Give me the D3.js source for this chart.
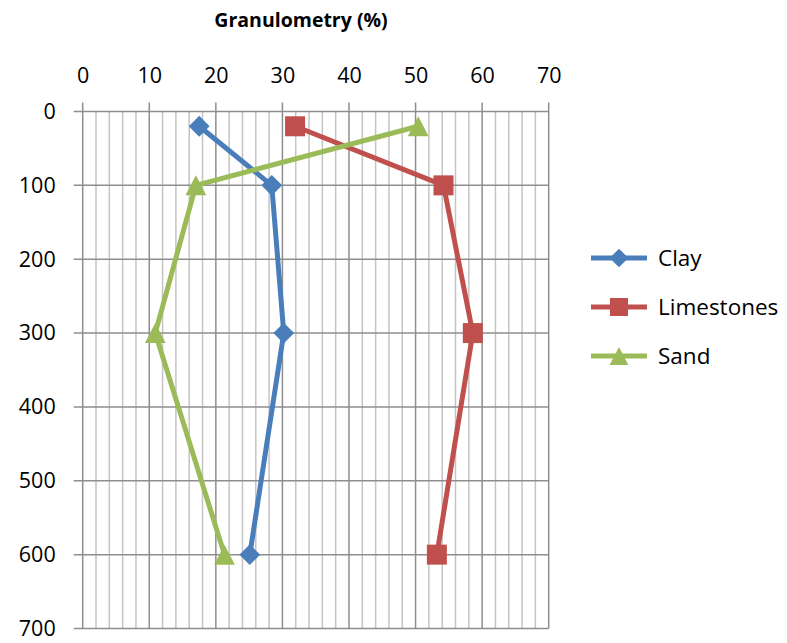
<!DOCTYPE html>
<html><head><meta charset="utf-8">
<script src="https://cdn.jsdelivr.net/npm/d3@7"></script>
<style>body{margin:0;background:#fff}svg{display:block}</style>
</head><body>
<svg id="c" width="787" height="643"></svg>
<script>
const xTicks = [0,10,20,30,40,50,60,70];
const yTicks = [0,100,200,300,400,500,600,700];
const depths = [20,100,300,600];
const clay = [17.5,28.4,30.2,25.1];
const limestones = [31.9,54.2,58.6,53.2];
const sand = [50.4,17.0,10.9,21.3];
const seriesNames = ["Clay","Limestones","Sand"];
const seriesColors = ["#4A7EBB","#C0504D","#9BBB59"];
const seriesData = [clay, limestones, sand];

const svg = d3.select("#c");
const font = "'Open Sans', sans-serif";
const x = d3.scaleLinear().domain([0,70]).range([82.7,548.7]);
const y = d3.scaleLinear().domain([0,700]).range([111.5,628.5]);

// marker path generators
function marker(i, s){
  if(i===0){ const h=s*0.52; return `M0,${-h}L${h},0L0,${h}L${-h},0Z`; }
  if(i===1){ const h=s*0.5; return `M${-h},${-h}H${h}V${h}H${-h}Z`; }
  const w=s*0.52, t=s*0.5; return `M0,${-t}L${w},${t}L${-w},${t}Z`;
}

// minor vertical grid
svg.append("g").selectAll("line").data(d3.range(0,71,2).filter(v=>v%10!==0)).join("line")
  .attr("x1",d=>x(d)).attr("x2",d=>x(d)).attr("y1",y(0)).attr("y2",y(700))
  .attr("stroke","#c4c4c4").attr("stroke-width",1.5);
// major horizontal grid
svg.append("g").selectAll("line").data(yTicks).join("line")
  .attr("x1",x(0)-9).attr("x2",x(70)).attr("y1",d=>y(d)).attr("y2",d=>y(d))
  .attr("stroke","#8e8e8e").attr("stroke-width",1.5);
// major vertical grid
svg.append("g").selectAll("line").data(xTicks).join("line")
  .attr("x1",d=>x(d)).attr("x2",d=>x(d)).attr("y1",y(0)-9).attr("y2",y(700))
  .attr("stroke","#8e8e8e").attr("stroke-width",1.5);

// axes labels
const xa = svg.append("g").attr("transform",`translate(0,${y(0)-9})`)
  .call(d3.axisTop(x).tickValues(xTicks).tickSize(0).tickPadding(20));
xa.select(".domain").remove();
xa.selectAll("text").attr("font-family",font).attr("font-size",21.5).attr("fill","#000");
const ya = svg.append("g").attr("transform",`translate(${x(0)-9},0)`)
  .call(d3.axisLeft(y).tickValues(yTicks).tickSize(0).tickPadding(18));
ya.select(".domain").remove();
ya.selectAll("text").attr("font-family",font).attr("font-size",21.5).attr("fill","#000");

svg.append("text").attr("x",301).attr("y",27).attr("text-anchor","middle")
  .attr("font-family",font).attr("font-weight","bold").attr("font-size",19.5).text("Granulometry (%)");

const line = d3.line().x(d=>x(d[0])).y(d=>y(d[1]));
seriesData.forEach((vals,i)=>{
  const pts = vals.map((v,j)=>[v,depths[j]]);
  svg.append("path").datum(pts).attr("d",line).attr("fill","none")
    .attr("stroke",seriesColors[i]).attr("stroke-width",5).attr("stroke-linejoin","round");
  svg.append("g").selectAll("path").data(pts).join("path")
    .attr("transform",d=>`translate(${x(d[0])},${y(d[1])})`)
    .attr("d",marker(i, 20))
    .attr("fill",seriesColors[i]);
});

// legend
seriesNames.forEach((n,i)=>{
  const ly = 258 + i*49;
  const g = svg.append("g");
  g.append("line").attr("x1",591).attr("x2",647).attr("y1",ly).attr("y2",ly)
    .attr("stroke",seriesColors[i]).attr("stroke-width",5);
  g.append("path").attr("transform",`translate(619,${ly})`)
    .attr("d",marker(i, 18)).attr("fill",seriesColors[i]);
  g.append("text").attr("x",658).attr("y",ly).attr("dy","0.35em")
    .attr("font-family",font).attr("font-size",22.5).text(n);
});
</script>
</body></html>
